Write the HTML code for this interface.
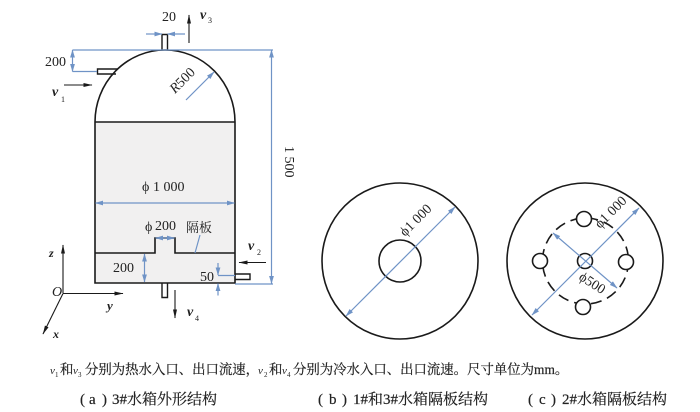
<!DOCTYPE html>
<html>
<head>
<meta charset="utf-8">
<style>
html,body{margin:0;padding:0;background:#fff}
svg{display:block}
text{font-family:"Liberation Serif","Noto Serif CJK SC",serif;fill:#222}
.i{font-style:italic}
.v{font-style:italic;font-weight:bold;font-size:14px}
.s{font-size:8px}
.l{font-size:14px}
.c{font-size:13.4px;stroke:#222;stroke-width:.2}
.d{font-size:15px;stroke:#222;stroke-width:.2}
.cv{font-size:11px;font-style:italic}
.cs{font-size:7px}
.k{stroke:#1a1a1a;fill:none;stroke-width:1.6}
.b{stroke:#6f93c6;fill:none;stroke-width:1.2}
.t{stroke:#1a1a1a;fill:none;stroke-width:1.1}
.n{stroke:#1a1a1a;fill:none;stroke-width:1.4}
</style>
</head>
<body>
<svg width="700" height="412" viewBox="0 0 700 412" xmlns="http://www.w3.org/2000/svg">
<defs>
<marker id="ab" markerWidth="8" markerHeight="6" refX="7.5" refY="3" orient="auto-start-reverse" markerUnits="userSpaceOnUse"><path d="M0 0.6L8 3L0 5.4z" fill="#6f93c6"/></marker>
<marker id="ak" markerWidth="9" markerHeight="6" refX="8.5" refY="3" orient="auto" markerUnits="userSpaceOnUse"><path d="M0 1L9 3L0 5z" fill="#1a1a1a"/></marker>
</defs>

<!-- tank -->
<rect x="95" y="122" width="140" height="161" fill="#f1f0f0"/>
<path class="k" d="M95 122A70 72 0 0 1 235 122L235 283L95 283Z"/>
<path class="k" d="M95 122H235"/>
<path class="k" d="M95 253H155V238H175V253H235"/>
<!-- nozzles -->
<path class="n" d="M162 50V34.500H167.500V50"/>
<path class="n" d="M116 74H97.500V69H118"/>
<path class="n" d="M235 274H250V279.500H235"/>
<path class="n" d="M162 283V297.500H167.500V283"/>

<!-- dims -->
<path class="b" d="M72.500 50H273"/>
<path class="b" d="M72.500 71.500H97"/>
<path class="b" d="M72.500 50V71.500" marker-start="url(#ab)" marker-end="url(#ab)"/>
<path class="b" d="M271.500 50V283.500" marker-start="url(#ab)" marker-end="url(#ab)"/>
<path class="b" d="M235 284H273"/>
<path class="b" d="M146 34H162" marker-end="url(#ab)"/>
<path class="b" d="M185 34H167.500" marker-end="url(#ab)"/>
<path class="b" d="M186 100L214 72" marker-end="url(#ab)"/>
<path class="b" d="M95.500 203H234.500" marker-start="url(#ab)" marker-end="url(#ab)"/>
<path class="b" d="M155.500 238H174.500" marker-start="url(#ab)" marker-end="url(#ab)"/>
<path class="b" d="M144.500 254V282" marker-start="url(#ab)" marker-end="url(#ab)"/>
<path class="b" d="M218 275.500H235"/>
<path class="b" d="M218 263V275" marker-end="url(#ab)"/>
<path class="b" d="M218 295.500V283.500" marker-end="url(#ab)"/>
<path class="b" d="M195 253L200 235"/>

<!-- flow arrows -->
<path class="t" d="M64 85H92" marker-end="url(#ak)"/>
<path class="t" d="M189 43V15" marker-end="url(#ak)"/>
<path class="t" d="M266 262.500H239" marker-end="url(#ak)"/>
<path class="t" d="M175 290V318" marker-end="url(#ak)"/>

<!-- axes -->
<path class="t" d="M63 293V245" marker-end="url(#ak)"/>
<path class="t" d="M63 293.500H123" marker-end="url(#ak)"/>
<path class="t" d="M63 293.500L43 334" marker-end="url(#ak)"/>

<!-- labels tank -->
<text x="162" y="21" class="l">20</text>
<text x="200" y="19" class="v">v</text><text x="208" y="23" class="s">3</text>
<text x="45" y="66" class="l">200</text>
<text x="52" y="96" class="v">v</text><text x="61" y="102" class="s">1</text>
<text transform="translate(175 94) rotate(-45)" class="l"><tspan class="i">R</tspan>500</text>
<text transform="translate(285 146) rotate(90)" class="l">1 500</text>
<text x="142" y="191" class="l">ϕ</text><text x="153" y="191" class="l">1 000</text>
<text x="145" y="231" class="l">ϕ</text><text x="155" y="230" class="l">200</text>
<text x="186" y="232" font-size="13">隔板</text>
<text x="113" y="272" class="l">200</text>
<text x="200" y="281" class="l">50</text>
<text x="248" y="250" class="v">v</text><text x="257" y="255" class="s">2</text>
<text x="187" y="316" class="v">v</text><text x="195" y="321" class="s">4</text>
<text x="49" y="257" font-size="12" class="i" font-weight="bold">z</text>
<text x="52" y="296" class="l i">O</text>
<text x="107" y="310" font-size="13" class="i" font-weight="bold">y</text>
<text x="53" y="338" font-size="12" class="i" font-weight="bold">x</text>

<!-- b -->
<circle class="k" cx="400" cy="261" r="78"/>
<circle class="k" cx="400" cy="261" r="21"/>
<path class="b" d="M346 316L455 207" marker-start="url(#ab)" marker-end="url(#ab)"/>
<text transform="translate(405 237) rotate(-45)" class="l">ϕ1 000</text>

<!-- c -->
<circle class="k" cx="585" cy="261" r="78"/>
<circle class="k" cx="585.500" cy="261" r="43" stroke-dasharray="11 6"/>
<g fill="#fff" stroke="#1a1a1a" stroke-width="1.6">
<circle cx="584" cy="219" r="7.500"/>
<circle cx="626" cy="262" r="7.500"/>
<circle cx="583" cy="307" r="7.500"/>
<circle cx="540" cy="261" r="7.500"/>
<circle cx="585" cy="261" r="7.500"/>
</g>
<path class="b" d="M532 315L639 208" marker-start="url(#ab)" marker-end="url(#ab)"/>
<path class="b" d="M553 233L617 288" marker-start="url(#ab)" marker-end="url(#ab)"/>
<text transform="translate(600 229) rotate(-45)" class="l">ϕ1 000</text>
<text transform="translate(578 279) rotate(33)" class="l">ϕ500</text>

<!-- caption line -->
<text x="50" y="374" class="cv">v</text><text x="55" y="377" class="cs">1</text>
<text x="60" y="374" class="c">和</text>
<text x="73" y="374" class="cv">v</text><text x="78" y="377" class="cs">3</text>
<text x="85" y="374" class="c">分别为热水入口、出口流速，</text>
<text x="258" y="374" class="cv">v</text><text x="264" y="377" class="cs">2</text>
<text x="269" y="374" class="c">和</text>
<text x="282" y="374" class="cv">v</text><text x="287" y="377" class="cs">4</text>
<text x="293" y="374" class="c">分别为冷水入口、出口流速。尺寸单位为mm。</text>

<!-- sub captions -->
<text x="80" y="404" class="d">(</text><text x="89" y="404" class="d">a</text><text x="102" y="404" class="d">)</text>
<text x="112" y="404" class="d">3#水箱外形结构</text>
<text x="318" y="404" class="d">(</text><text x="329" y="404" class="d">b</text><text x="342" y="404" class="d">)</text>
<text x="353" y="404" class="d">1#和3#水箱隔板结构</text>
<text x="528" y="404" class="d">(</text><text x="539" y="404" class="d">c</text><text x="551" y="404" class="d">)</text>
<text x="562" y="404" class="d">2#水箱隔板结构</text>
</svg>
</body>
</html>
